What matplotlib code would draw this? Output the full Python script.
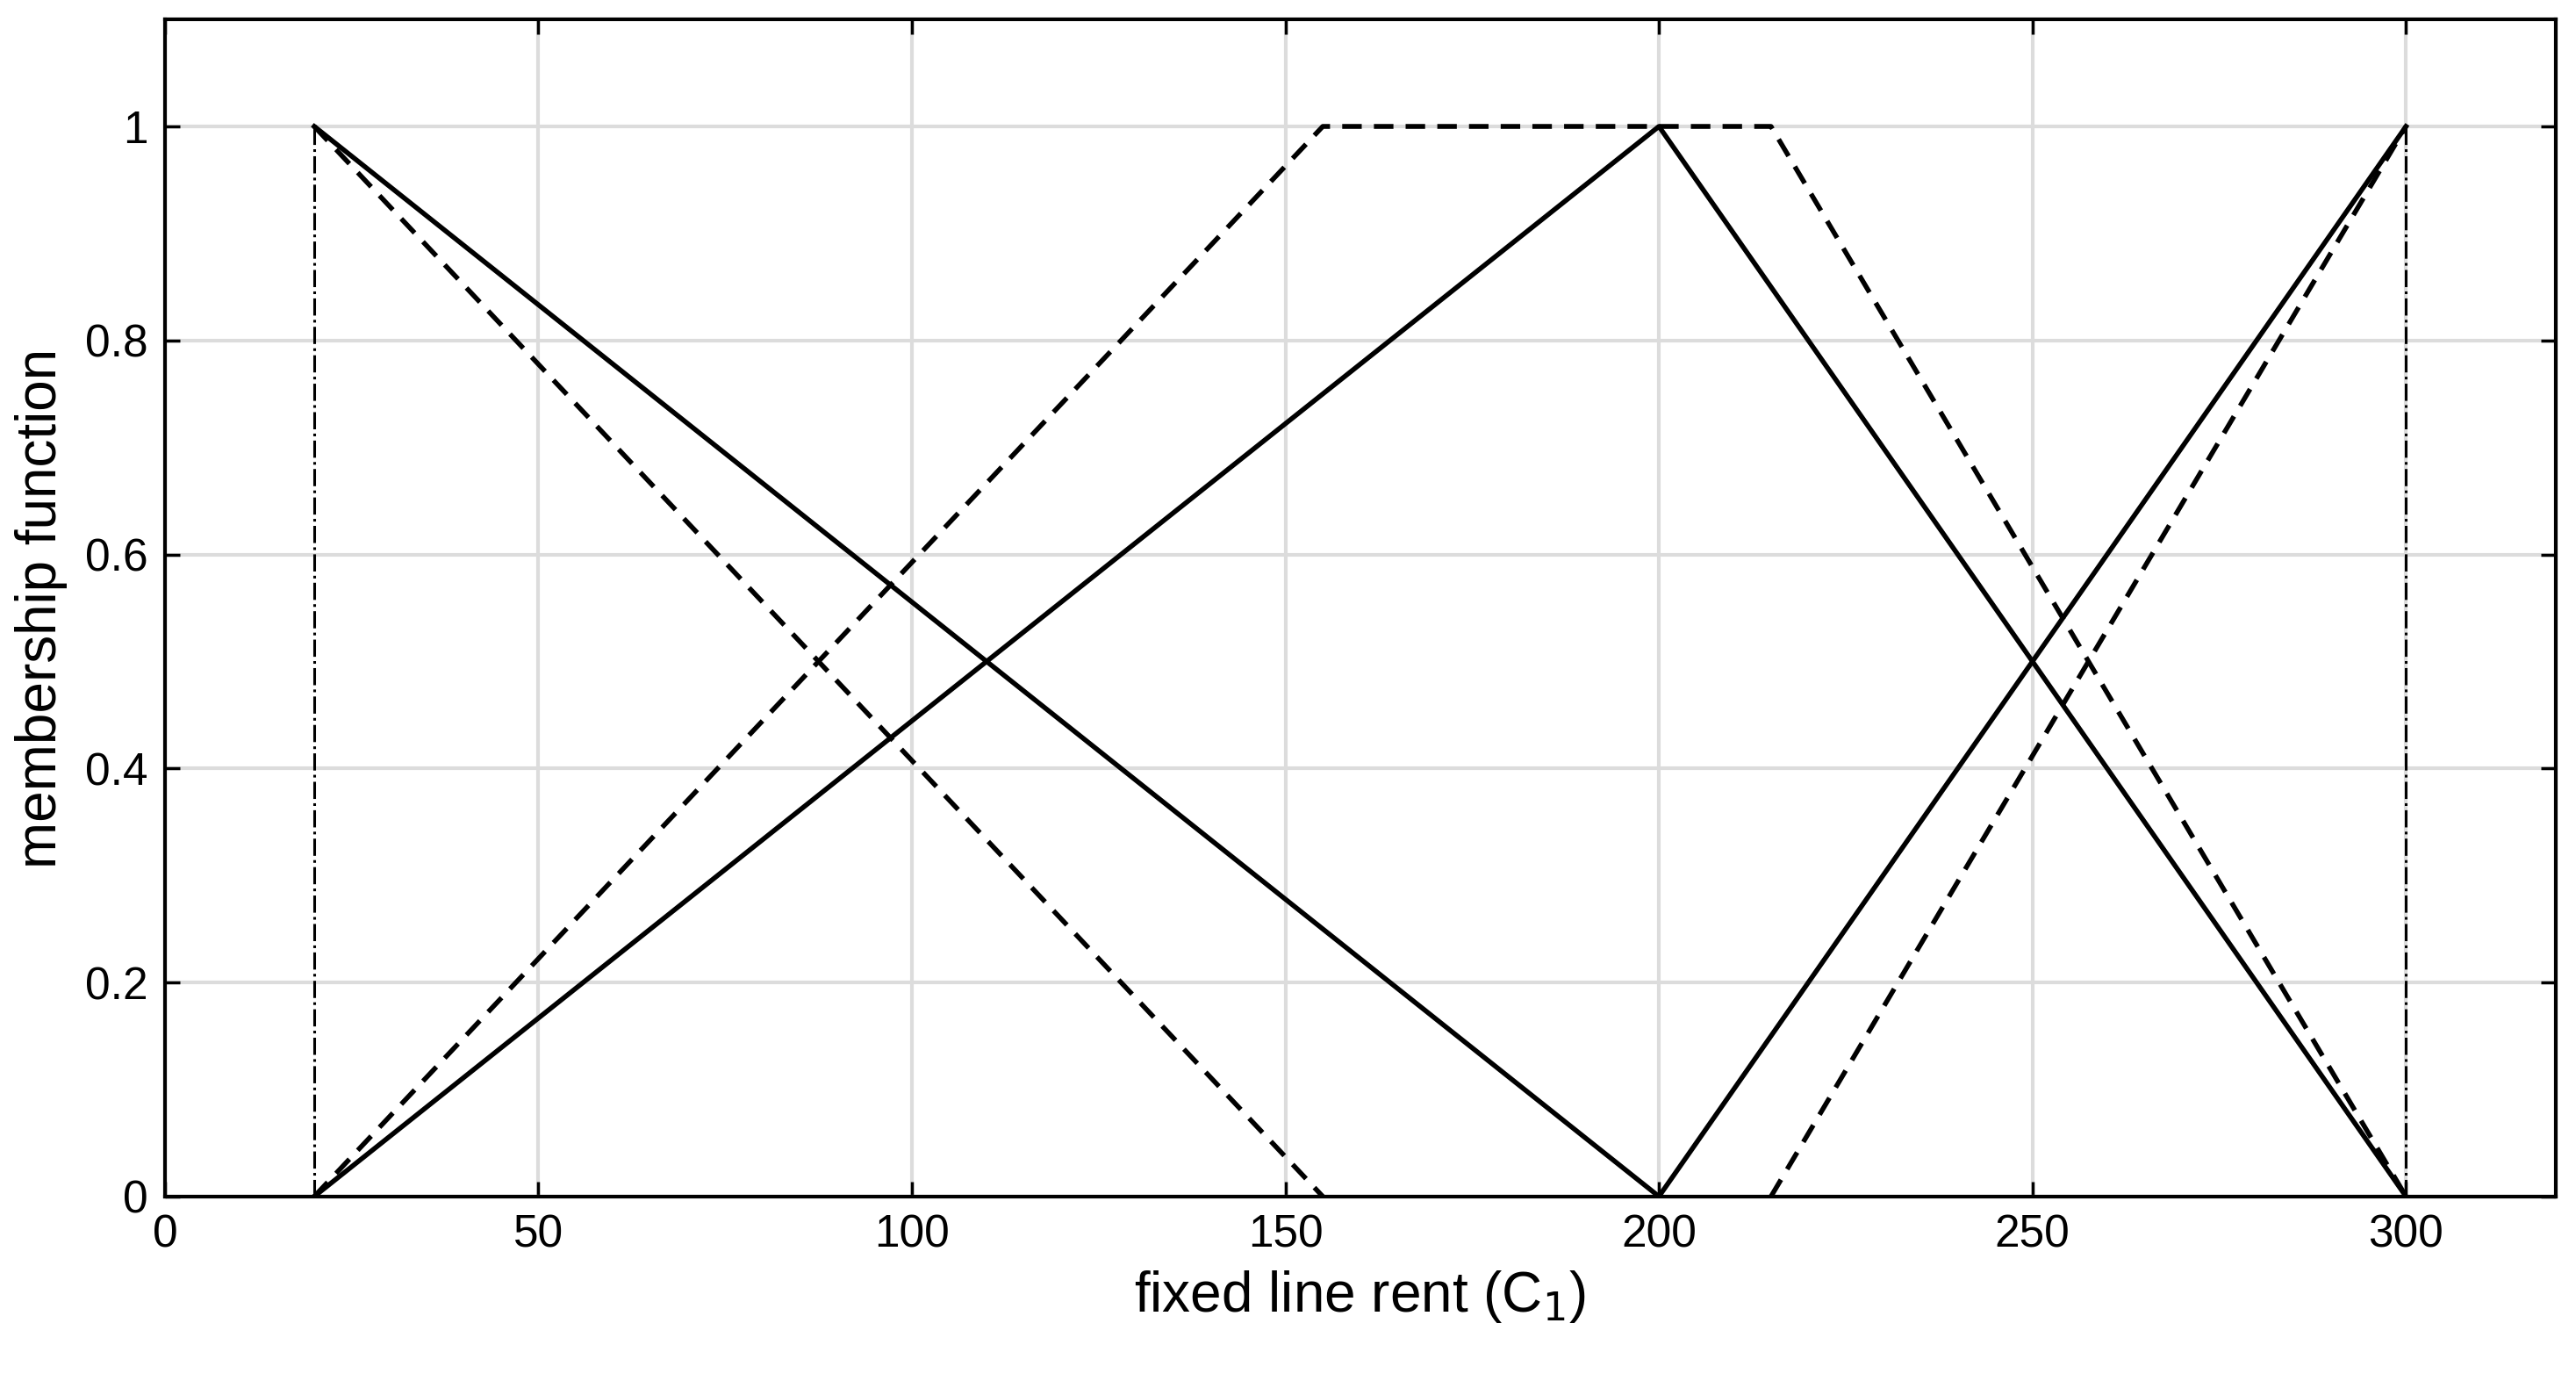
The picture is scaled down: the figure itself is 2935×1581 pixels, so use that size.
import matplotlib
matplotlib.use("Agg")
import matplotlib.pyplot as plt

plt.rcParams['font.family'] = ['Liberation Sans', 'DejaVu Sans']

# membership functions (x breakpoints, y values)
solid_x = [[20, 200], [20, 200, 300], [200, 300]]
solid_y = [[1, 0], [0, 1, 0], [0, 1]]
dash_x = [[20, 155], [20, 155, 215, 300], [215, 300]]
dash_y = [[1, 0], [0, 1, 1, 0], [0, 1]]
dashdot_x = [[20, 20], [300, 300]]
dashdot_y = [[0, 1], [0, 1]]

fig = plt.figure(figsize=(29.35, 15.81), dpi=100)
ax = fig.add_axes([0.064, 0.138, 0.928, 0.848])

for xs, ys in zip(solid_x, solid_y):
    ax.plot(xs, ys, color='black', lw=4, ls='-')
for xs, ys in zip(dash_x, dash_y):
    ax.plot(xs, ys, color='black', lw=4, ls=(0, (4, 2.5)))
for xs, ys in zip(dashdot_x, dashdot_y):
    ax.plot(xs, ys, color='black', lw=2.2, ls='-.')

ax.set_xlim(0, 320)
ax.set_ylim(0, 1.1)
ax.set_xticks([0, 50, 100, 150, 200, 250, 300])
ax.set_yticks([0, 0.2, 0.4, 0.6, 0.8, 1])
ax.set_yticklabels(['0', '0.2', '0.4', '0.6', '0.8', '1'])
ax.grid(True, color='#dcdcdc', lw=3)
ax.set_axisbelow(True)
ax.tick_params(labelsize=37, direction='in', length=12, width=2.5, top=True, right=True, pad=14)
for s in ax.spines.values():
    s.set_linewidth(3)
ax.set_xlabel('fixed line rent (C$_1$)', fontsize=46, labelpad=10)
ax.set_ylabel('membership function', fontsize=46, labelpad=14)

fig.savefig('out.png', dpi=100)
